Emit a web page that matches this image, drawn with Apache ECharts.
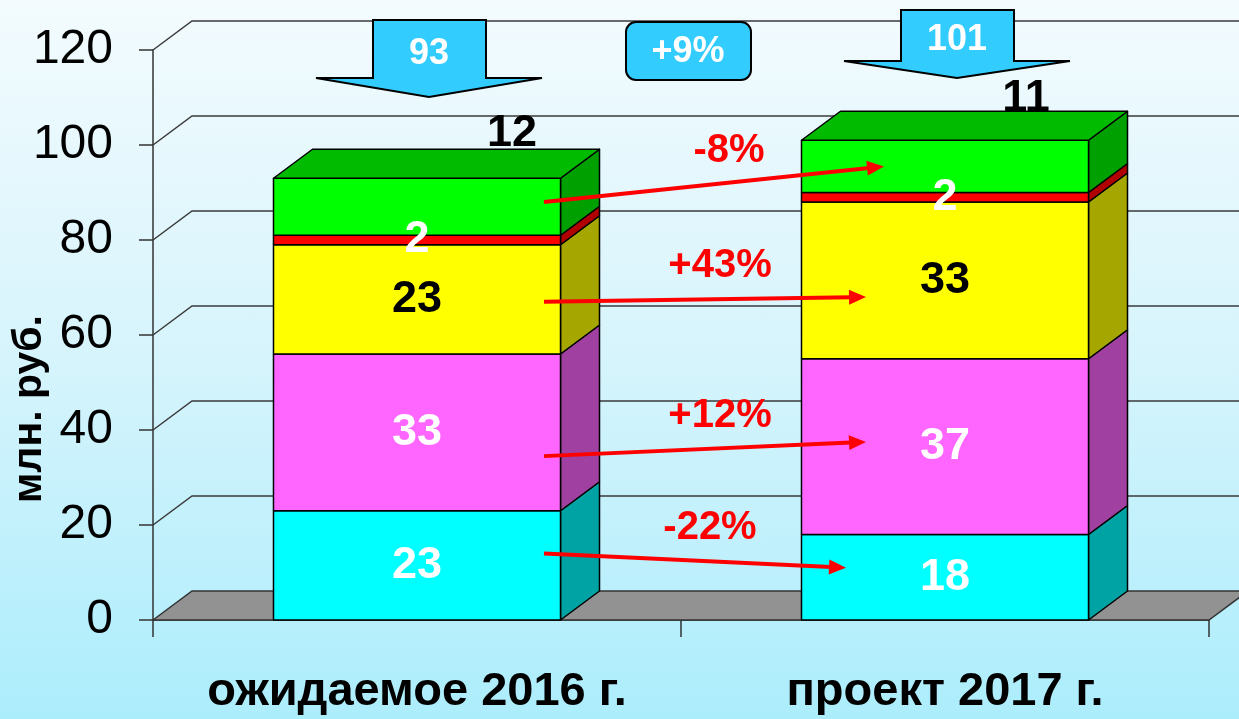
<!DOCTYPE html>
<html>
<head>
<meta charset="utf-8">
<script src="https://cdn.jsdelivr.net/npm/echarts@6.0.0/dist/echarts.min.js"></script>
<style>
  html, body { margin: 0; padding: 0; }
  #chart {
    width: 1239px;
    height: 719px;
    background: linear-gradient(to bottom, #F3FBFE 0%, #D6F4FC 50%, #ACEDFC 100%);
  }
</style>
</head>
<body>
<div id="chart"></div>
<script>
// данные
const categories = ['ожидаемое 2016 г.', 'проект 2017 г.'];
const cyanValues = [23, 18];
const magentaValues = [33, 37];
const yellowValues = [23, 33];
const redValues = [2, 2];
const greenValues = [12, 11];
const yTicks = [0, 20, 40, 60, 80, 100, 120];

// red arrows between the bars (cyan, magenta, yellow, green): value where they start / end
const arrowLayers = [0, 1, 2, 4];
const arrowFrom = [14, 34.5, 67, 88];
const arrowTo = [11, 37.5, 68, 95.5];

const FONT = '"Liberation Sans", Arial, sans-serif';
const DX = 39, DY = 29;          // 3d depth
const BAR_FRAC = 0.5436;
const topLabelShift = [[95, -45], [81, -42]];
const arrowStartDx = 127;
const arrowEndDx = [-99, -79, -79, -61];
const calloutTop = [20, 10], calloutShoulder = [78, 61], calloutTip = [97, 78];

const layers = [
  { values: cyanValues,    front: '#00FFFF', side: '#00A3A3', top: '#00CCCC', text: '#FFFFFF' },
  { values: magentaValues, front: '#FF66FF', side: '#A040A0', top: '#CC52CC', text: '#FFFFFF' },
  { values: yellowValues,  front: '#FFFF00', side: '#A6A600', top: '#CCCC00', text: '#000000' },
  { values: redValues,     front: '#FF0000', side: '#B00000', top: '#CC0000', text: '#FFFFFF' },
  { values: greenValues,   front: '#00FF00', side: '#00A000', top: '#00BB00', text: '#000000' }
];

const bases = [];
let run = categories.map(() => 0);
layers.forEach(l => {
  bases.push(run.slice());
  run = run.map((r, i) => r + l.values[i]);
});
const totals = run;

const change = (a, b) => {
  const p = Math.round((b / a - 1) * 100);
  return (p > 0 ? '+' : '') + p + '%';
};

const edge = { stroke: '#000', lineWidth: 1.5, lineJoin: 'round' };

const wallSeries = {
  type: 'custom',
  z: 1,
  clip: false,
  silent: true,
  data: yTicks.map(v => [0, v]),
  renderItem: (params, api) => {
    const v = api.value(1);
    const band = api.size([1, 0])[0];
    const p = api.coord([0, v]);
    const left = p[0] - band / 2;
    const right = api.coord([categories.length - 1, v])[0] + band / 2;
    const y = p[1];
    if (v === yTicks[0]) {
      return {
        type: 'polygon',
        shape: { points: [[left, y], [left + DX, y - DY], [right + DX, y - DY], [right, y]] },
        style: { fill: '#929292', stroke: '#333', lineWidth: 1.5 }
      };
    }
    return {
      type: 'polyline',
      shape: { points: [[left, y], [left + DX, y - DY], [right + DX, y - DY]] },
      style: { fill: null, stroke: '#3a3a3a', lineWidth: 1.5 }
    };
  }
};

const barSeries = layers.map((layer, li) => ({
  type: 'custom',
  z: 2,
  clip: false,
  data: layer.values.map((v, i) => [i, bases[li][i], bases[li][i] + v]),
  renderItem: (params, api) => {
    const i = api.value(0);
    const lo = api.coord([i, api.value(1)]);
    const hi = api.coord([i, api.value(2)]);
    const w = api.size([1, 0])[0] * BAR_FRAC;
    const x0 = lo[0] - w / 2, x1 = x0 + w, yb = lo[1], yt = hi[1];
    const isTop = li === layers.length - 1;
    const children = [
      {
        type: 'polygon',
        shape: { points: [[x1, yb], [x1 + DX, yb - DY], [x1 + DX, yt - DY], [x1, yt]] },
        style: Object.assign({ fill: layer.side }, edge)
      },
      {
        type: 'rect',
        shape: { x: x0, y: yt, width: w, height: yb - yt },
        style: Object.assign({ fill: layer.front }, edge)
      }
    ];
    if (isTop) {
      children.push({
        type: 'polygon',
        shape: { points: [[x0, yt], [x0 + DX, yt - DY], [x1 + DX, yt - DY], [x1, yt]] },
        style: Object.assign({ fill: layer.top }, edge)
      });
    }
    let lx = lo[0], ly = (yb + yt) / 2;
    if (isTop) {
      lx = lo[0] + topLabelShift[i][0];
      ly = yt + topLabelShift[i][1];
    }
    children.push({
      type: 'text',
      x: lx, y: ly, z2: 100,
      style: {
        text: String(layer.values[i]), fill: layer.text,
        font: 'bold 45px ' + FONT, align: 'center', verticalAlign: 'middle'
      }
    });
    return { type: 'group', children };
  }
}));

const arrowSeries = {
  type: 'custom',
  z: 3,
  clip: false,
  silent: true,
  data: arrowFrom.map((f, k) => [0, f, arrowTo[k], k]),
  renderItem: (params, api) => {
    const k = api.value(3);
    const a = api.coord([0, api.value(1)]);
    const b = api.coord([1, api.value(2)]);
    const sx = a[0] + arrowStartDx, sy = a[1];
    const ex = b[0] + arrowEndDx[k], ey = b[1];
    const len = Math.hypot(ex - sx, ey - sy);
    const ux = (ex - sx) / len, uy = (ey - sy) / len;
    const nx = -uy, ny = ux;
    const L = 17, H = 7.5;
    const vals = layers[arrowLayers[k]].values;
    return {
      type: 'group',
      children: [
        {
          type: 'line',
          shape: { x1: sx, y1: sy, x2: ex - ux * (L - 2), y2: ey - uy * (L - 2) },
          style: { stroke: '#FF0000', lineWidth: 4 }
        },
        {
          type: 'polygon',
          shape: { points: [[ex, ey], [ex - ux * L + nx * H, ey - uy * L + ny * H], [ex - ux * L - nx * H, ey - uy * L - ny * H]] },
          style: { fill: '#FF0000' }
        },
        {
          type: 'text',
          x: (sx + ex) / 2 + 15, y: (sy + ey) / 2 - 33,
          style: {
            text: change(vals[0], vals[1]), fill: '#FF0000',
            font: 'bold 40px ' + FONT, align: 'center', verticalAlign: 'middle'
          }
        }
      ]
    };
  }
};

const calloutSeries = {
  type: 'custom',
  z: 3,
  clip: false,
  silent: true,
  data: totals.map((t, i) => [i, t]),
  renderItem: (params, api) => {
    const i = api.value(0);
    const cx = api.coord([i, 0])[0] + 12;
    const top = calloutTop[i], sh = calloutShoulder[i], tip = calloutTip[i];
    const children = [
      {
        type: 'polygon',
        shape: { points: [[cx - 56, top], [cx + 57, top], [cx + 57, sh], [cx + 113, sh], [cx, tip], [cx - 113, sh], [cx - 56, sh]] },
        style: { fill: '#33CCFF', stroke: '#000', lineWidth: 2, lineJoin: 'miter' }
      },
      {
        type: 'text',
        x: cx, y: (top + sh) / 2 + 5,
        style: {
          text: String(api.value(1)), fill: '#FFFFFF',
          font: 'bold 36px ' + FONT, align: 'center', verticalAlign: 'middle'
        }
      }
    ];
    if (i === categories.length - 1) {
      const mid = (api.coord([0, 0])[0] + api.coord([i, 0])[0]) / 2 + 7;
      children.push({
        type: 'rect',
        shape: { x: mid - 62, y: 22, width: 125, height: 58, r: 10 },
        style: { fill: '#33CCFF', stroke: '#000', lineWidth: 2 }
      });
      children.push({
        type: 'text',
        x: mid, y: 52,
        style: {
          text: change(totals[0], totals[i]), fill: '#FFFFFF',
          font: 'bold 36px ' + FONT, align: 'center', verticalAlign: 'middle'
        }
      });
    }
    return { type: 'group', children };
  }
};

const chart = echarts.init(document.getElementById('chart'));
chart.setOption({
  animation: false,
  backgroundColor: 'transparent',
  grid: { left: 153, right: 30, top: 50, bottom: 99 },
  xAxis: {
    type: 'category',
    data: categories,
    boundaryGap: true,
    axisLine: { show: true, lineStyle: { color: '#333', width: 1.5 } },
    axisTick: { show: true, length: 17, lineStyle: { color: '#333', width: 1.5 } },
    axisLabel: {
      interval: 0, hideOverlap: false,
      color: '#000', fontSize: 47, fontWeight: 'bold', fontFamily: FONT, margin: 49
    }
  },
  yAxis: {
    type: 'value',
    min: 0,
    max: 120,
    interval: 20,
    splitLine: { show: false },
    axisLine: { show: true, lineStyle: { color: '#333', width: 1.5 } },
    axisTick: { show: true, length: 14, lineStyle: { color: '#333', width: 1.5 } },
    axisLabel: { color: '#000', fontSize: 48, fontFamily: FONT, margin: 40 }
  },
  graphic: [{
    type: 'text',
    x: 30, y: 409,
    rotation: Math.PI / 2,
    style: {
      text: 'млн. руб.', fill: '#000',
      font: 'bold 41px ' + FONT, align: 'center', verticalAlign: 'middle'
    }
  }],
  series: [wallSeries].concat(barSeries, [arrowSeries, calloutSeries])
});
</script>
</body>
</html>
